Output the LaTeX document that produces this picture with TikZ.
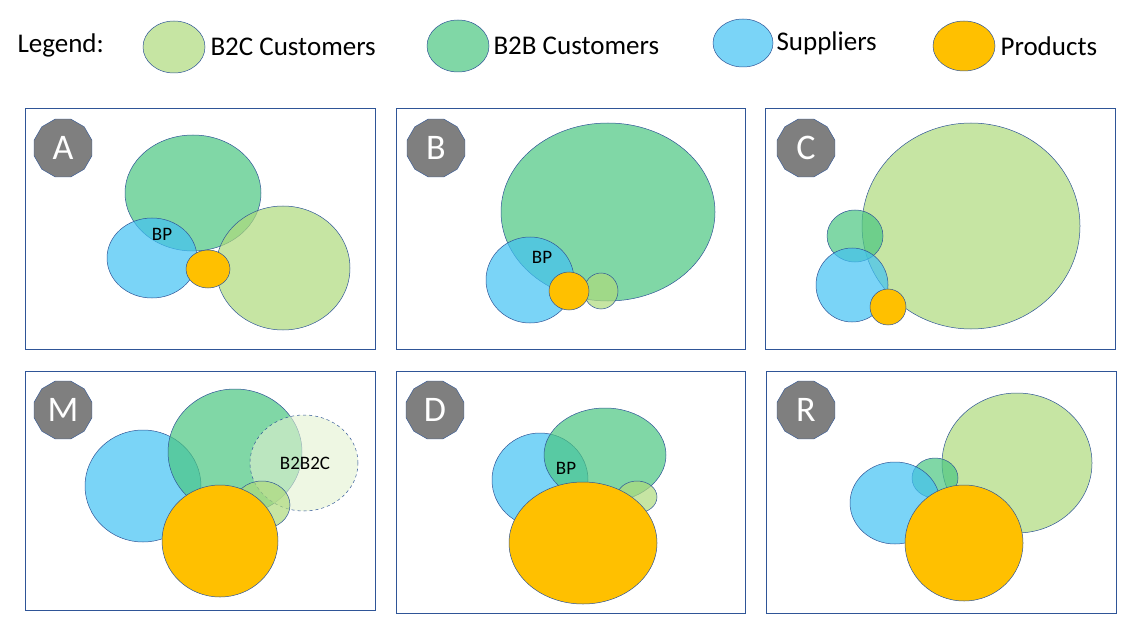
\documentclass[tikz,border=0pt]{standalone}
\usepackage{fontspec}
\setmainfont{Carlito}
\usetikzlibrary{shapes.geometric}
\definecolor{ctwo}{HTML}{AEDA7C}
\definecolor{btwo}{HTML}{4AC680}
\definecolor{sup}{HTML}{41C2F4}
\definecolor{prod}{HTML}{FFC000}
\definecolor{edge}{HTML}{2F5597}
\definecolor{badge}{HTML}{7F7F7F}
\begin{document}
\begin{tikzpicture}[x=1pt,y=-1pt,
  el/.style={draw=edge,line width=0.5pt,ellipse,inner sep=0pt,minimum width=#1},
  bc/.style={el, fill=ctwo, fill opacity=0.7},
  bb/.style={el, fill=btwo, fill opacity=0.7},
  su/.style={el, fill=sup, fill opacity=0.7},
  pr/.style={el, fill=prod},
  panel/.style={draw=edge,line width=0.6pt},
  bdg/.style={regular polygon,regular polygon sides=12,fill=badge,draw=edge,line width=0.4pt,minimum size=60pt,inner sep=0pt,text=white,font=\fontsize{36}{36}\selectfont},
  lab/.style={font=\fontsize{19}{19}\selectfont},
  leg/.style={font=\fontsize{27}{27}\selectfont,anchor=west}]
\useasboundingbox (0,0) rectangle (1139,636);
% legend
\node[leg] (lg) at (14,45) {Legend:};
\node[bc,minimum width=62pt,minimum height=52pt] (l1) at (174,47) {};
\node[leg] (t1) at (207,47) {B2C Customers};
\node[bb,minimum width=62pt,minimum height=52pt] (l2) at (458,46) {};
\node[leg] (t2) at (490,46) {B2B Customers};
\node[su,minimum width=60pt,minimum height=48pt] (l3) at (743,43) {};
\node[leg] (t3) at (773,43) {Suppliers};
\node[pr,minimum width=62pt,minimum height=50pt] (l4) at (964,46) {};
\node[leg] (t4) at (997,46) {Products};
% panels
\draw[panel] (25,108) rectangle (375,349);
\draw[panel] (396,108) rectangle (745,349);
\draw[panel] (765,108) rectangle (1115,349);
\draw[panel] (25,371) rectangle (375,610);
\draw[panel] (396,371) rectangle (745,613);
\draw[panel] (766,371) rectangle (1116,613);
% A
\node[bb,minimum width=136pt,minimum height=116pt] (ab) at (193,193) {};
\node[su,minimum width=90pt,minimum height=80pt] (as) at (152,258) {};
\node[bc,minimum width=134pt,minimum height=124pt] (ac) at (283,268) {};
\node[pr,minimum width=44pt,minimum height=38pt] (ap) at (208,269) {};
\node[lab] (abp) at (162,234) {BP};
% B
\node[bb,minimum width=214pt,minimum height=178pt] (bb1) at (608,212) {};
\node[su,minimum width=88pt,minimum height=86pt] (bs) at (530,280) {};
\node[bc,minimum width=34pt,minimum height=36pt] (bc1) at (601,291) {};
\node[pr,minimum width=40pt,minimum height=38pt] (bp) at (569,291) {};
\node[lab] (bbp) at (542,257) {BP};
% C
\node[bc,minimum width=218pt,minimum height=206pt] (cc) at (971,226) {};
\node[bb,minimum width=56pt,minimum height=52pt] (cb) at (855,236) {};
\node[su,minimum width=72pt,minimum height=74pt] (cs) at (852,285) {};
\node[pr,minimum width=36pt,minimum height=36pt] (cp) at (888,307) {};
% M
\node[su,minimum width=116pt,minimum height=112pt] (ms) at (143,486) {};
\node[bb,minimum width=134pt,minimum height=126pt] (mb) at (235,452) {};
\node[el,fill=ctwo!35,fill opacity=0.6,dashed,minimum width=108pt,minimum height=96pt] (mbb) at (304,463) {};
\node[bc,minimum width=56pt,minimum height=48pt] (mc) at (262,505) {};
\node[pr,minimum width=116pt,minimum height=112pt] (mp) at (220,541) {};
\node[lab] (mlab) at (305,463) {B2B2C};
% D
\node[su,minimum width=96pt,minimum height=94pt] (ds) at (540,480) {};
\node[bb,minimum width=122pt,minimum height=94pt] (db) at (605,455) {};
\node[bc,minimum width=40pt,minimum height=32pt] (dc) at (637,497) {};
\node[pr,minimum width=148pt,minimum height=122pt] (dp) at (583,543) {};
\node[lab] (dbp) at (566,468) {BP};
% R
\node[bc,minimum width=150pt,minimum height=140pt] (rc) at (1017,463) {};
\node[bb,minimum width=46pt,minimum height=40pt] (rb) at (935,478) {};
\node[su,minimum width=90pt,minimum height=82pt] (rs) at (895,503) {};
\node[pr,minimum width=118pt,minimum height=116pt] (rp) at (964,543) {};
% badges
\node[bdg] (ba) at (63,148) {A};
\node[bdg] (bbd) at (436,148) {B};
\node[bdg] (bcd) at (806,148) {C};
\node[bdg] (bm) at (63,410) {M};
\node[bdg] (bd) at (435,410) {D};
\node[bdg] (br) at (806,410) {R};
\end{tikzpicture}
\end{document}
